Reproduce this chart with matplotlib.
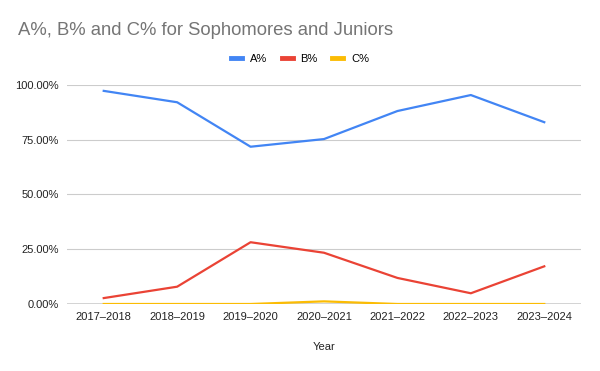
import matplotlib.pyplot as plt
from matplotlib.ticker import PercentFormatter

plt.rcParams['font.family'] = ['Liberation Sans', 'DejaVu Sans']

years = ['2017–2018', '2018–2019', '2019–2020', '2020–2021', '2021–2022', '2022–2023', '2023–2024']
a_pct = [97.3, 92.1, 71.8, 75.3, 88.1, 95.4, 83.0]
b_pct = [2.7, 7.9, 28.2, 23.4, 11.9, 4.9, 17.2]
c_pct = [0.0, 0.0, 0.0, 1.2, 0.0, 0.0, 0.0]

fig = plt.figure(figsize=(6, 3.71), dpi=100)
ax = fig.add_axes([0.1117, 0.1806, 0.8566, 0.5904])

x = range(len(years))
ax.plot(x, a_pct, color='#4285f4', lw=1.6, label='A%', zorder=3)
ax.plot(x, b_pct, color='#ea4335', lw=1.6, label='B%', zorder=3)
ax.plot(x, c_pct, color='#fbbc04', lw=1.6, label='C%', zorder=4)

ax.set_xlim(-0.5, len(years) - 0.5)
ax.set_ylim(0, 100)
ax.set_yticks([0, 25, 50, 75, 100])
ax.yaxis.set_major_formatter(PercentFormatter(decimals=2))
ax.set_xticks(list(x))
ax.set_xticklabels(years)
ax.grid(axis='y', color='#cccccc', lw=0.8)
ax.set_axisbelow(True)
ax.axhline(0, color='#333333', lw=1.0, zorder=2)
for s in ax.spines.values():
    s.set_visible(False)
ax.tick_params(length=0, labelsize=8, colors='#222222', pad=6)
ax.set_xlabel('Year', fontsize=8, color='#222222', labelpad=14)

fig.text(0.03, 0.918, 'A%, B% and C% for Sophomores and Juniors', fontsize=13.3,
         color='#757575', va='center')
fig.legend(loc='center', bbox_to_anchor=(0.5, 0.841), ncol=3, frameon=False,
           fontsize=8, handlelength=1.0, handleheight=0.5, columnspacing=1.3,
           handletextpad=0.7)
for h in fig.legends[0].get_lines():
    h.set_linewidth(3.5)

fig.savefig('out.png', dpi=100)
